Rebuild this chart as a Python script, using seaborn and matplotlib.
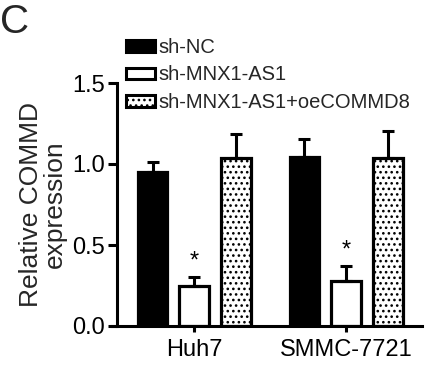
import matplotlib
matplotlib.use("Agg")
import matplotlib.pyplot as plt
import seaborn as sns
import pandas as pd
from matplotlib.patches import Patch

cells = ["Huh7", "SMMC-7721"]
groups = ["sh-NC", "sh-MNX1-AS1", "sh-MNX1-AS1+oeCOMMD8"]
mean_shNC = [0.95, 1.045]
mean_shMNX = [0.25, 0.28]
mean_oe = [1.035, 1.035]
sd_shNC = [0.06, 0.11]
sd_shMNX = [0.05, 0.09]
sd_oe = [0.15, 0.17]
stars = ["", "*", ""]
yticks = [0.0, 0.5, 1.0, 1.5]

means = [mean_shNC, mean_shMNX, mean_oe]
sds = [sd_shNC, sd_shMNX, sd_oe]

sns.set_theme(style="ticks")
plt.rcParams["font.family"] = ["Liberation Sans", "DejaVu Sans"]
plt.rcParams["hatch.linewidth"] = 1.1
plt.rcParams["hatch.color"] = "black"

rows = []
for g, m in zip(groups, means):
    for c, v in zip(cells, m):
        rows.append({"cell": c, "group": g, "value": v})
df = pd.DataFrame(rows)

fig = plt.figure(figsize=(4.31, 3.75), dpi=100)
ax = fig.add_axes([112 / 431, 1 - 326 / 375, 310 / 431, 243 / 375])

sns.barplot(data=df, x="cell", y="value", hue="group", order=cells, hue_order=groups,
            palette=["black", "white", "white"], saturation=1, width=0.82, gap=0.28,
            edgecolor="black", linewidth=2.3, errorbar=None, legend=False, ax=ax)

hatches = [None, None, "..."]
bar_containers = list(ax.containers)
for gi, cont in enumerate(bar_containers):
    for ci, bar in enumerate(cont):
        if hatches[gi]:
            bar.set_hatch(hatches[gi])
        x = bar.get_x() + bar.get_width() / 2
        h = bar.get_height()
        e = sds[gi][ci]
        ax.errorbar(x, h, yerr=[[0], [e]], fmt="none", ecolor="black",
                    elinewidth=2.2, capsize=4.6, capthick=2.2, zorder=1)
        if stars[gi]:
            ax.text(x, h + e + 0.03, stars[gi], ha="center", va="bottom",
                    fontsize=17, color="black")

ax.set_xlim(-0.54, 1.5)
ax.set_ylim(0, 1.5)
ax.set_yticks(yticks)
ax.set_yticklabels([f"{t:.1f}" for t in yticks])
ax.set_xlabel("")
ax.set_ylabel("Relative COMMD\nexpression", fontsize=19, labelpad=4, linespacing=1.0)
for side in ["top", "right"]:
    ax.spines[side].set_visible(False)
for side in ["left", "bottom"]:
    ax.spines[side].set_linewidth(2.2)
    ax.spines[side].set_color("black")
ax.spines["left"].set_position(("axes", 5 / 310))
ax.tick_params(axis="y", length=6.5, width=2.2, labelsize=17, pad=2, colors="black")
ax.tick_params(axis="x", length=4.5, width=2.2, labelsize=17, pad=5, colors="black")

handles = [
    Patch(facecolor="black", edgecolor="black", linewidth=2.2),
    Patch(facecolor="white", edgecolor="black", linewidth=2.2),
    Patch(facecolor="white", edgecolor="black", linewidth=2.2, hatch="..."),
]
fig.legend(handles, groups, loc="upper left", bbox_to_anchor=(126 / 431, 1 - 38 / 375),
           frameon=False, fontsize=14.5, handlelength=1.45, handleheight=0.5,
           handletextpad=0.15, labelspacing=0.42, borderpad=0, borderaxespad=0)

fig.text(0.0, 1 - 33 / 375, "C", fontsize=29, va="baseline", ha="left")

fig.savefig("out.png", dpi=100)
